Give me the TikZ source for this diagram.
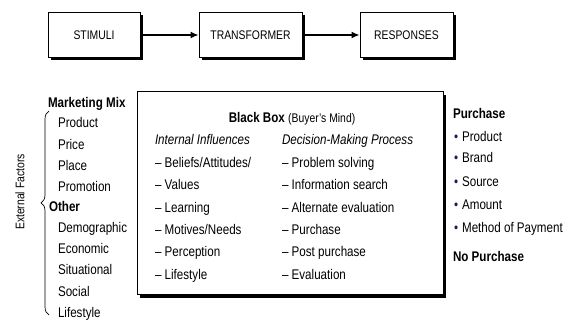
\documentclass[tikz,border=0pt]{standalone}
\usepackage{fontspec}
\setmainfont{Liberation Sans}[FakeStretch=0.83]
\usepackage{xcolor}
\usetikzlibrary{positioning,arrows.meta,shadows,decorations.pathreplacing}

\definecolor{bulletColor}{RGB}{30,30,90}
\newcommand{\rbullet}{\textcolor{bulletColor}{\fontsize{14}{14}\selectfont•}\hspace{4pt}}
\tikzset{
  stagebox/.style={draw=black,line width=1pt,fill=white,minimum width=92pt,minimum height=45pt,
    font=\fontsize{12.5}{14}\selectfont,
    drop shadow={shadow xshift=2.5pt,shadow yshift=-2.5pt,fill=black,opacity=1}},
  flow/.style={line width=1.2pt,-{Latex[length=8pt,width=7pt]}},
  lbl/.style={anchor=base west,inner sep=0pt,outer sep=0pt,font=\fontsize{14}{16}\selectfont},
  head/.style={lbl,font=\fontsize{14}{16}\selectfont\bfseries}
}

\begin{document}
\begin{tikzpicture}[x=1pt,y=-1pt]
\path[use as bounding box,fill=white] (0,0) rectangle (568,320);

% stages
\node[stagebox] (stimuli) at ( 94.0,35) {STIMULI};
\node[stagebox,minimum width=103pt] (transformer) at (250.5,35) {TRANSFORMER};
\node[stagebox,minimum width=93pt] (responses) at (406.5,35) {RESPONSES};

\draw[flow] (stimuli) -- (transformer);
\draw[flow] (transformer) -- (responses);

% black box
\node[draw=black,line width=1pt,fill=white,minimum width=306pt,minimum height=203pt,
  drop shadow={shadow xshift=2.5pt,shadow yshift=-3pt,fill=black,opacity=1}] (blackbox) at (290,193.5) {};

\node[anchor=base,inner sep=0pt,font=\fontsize{14}{16}\selectfont] (bbtitle) at (292,122.5)
  {\textbf{Black Box} {\fontsize{12.5}{14}\selectfont(Buyer's Mind)}};

\node[lbl,font=\fontsize{14}{16}\selectfont\itshape] (internal) at (155,144.5) {Internal Influences};
\node[lbl,font=\fontsize{14}{16}\selectfont\itshape] (decision) at (282,144.5) {Decision-Making Process};

\node[lbl] (beliefs) at (155,167.5) {– Beliefs/Attitudes/};
\node[lbl] (values) at (155,189.5) {– Values};
\node[lbl] (learning) at (155,212.5) {– Learning};
\node[lbl] (motives) at (155,234.5) {– Motives/Needs};
\node[lbl] (perception) at (155,256.5) {– Perception};
\node[lbl] (lifestyleint) at (155,279.5) {– Lifestyle};

\node[lbl] (problem) at (282,167.5) {– Problem solving};
\node[lbl] (search) at (282,189.5) {– Information search};
\node[lbl] (alternate) at (282,212.5) {– Alternate evaluation};
\node[lbl] (purchasestep) at (282,234.5) {– Purchase};
\node[lbl] (postpurchase) at (282,256.5) {– Post purchase};
\node[lbl] (evaluation) at (282,279.5) {– Evaluation};

% external factors
\node[head] (mix) at (48,107.5) {Marketing Mix};
\node[lbl] (product) at (58,127.5) {Product};
\node[lbl] (price) at (58,149.5) {Price};
\node[lbl] (place) at (58,170.5) {Place};
\node[lbl] (promotion) at (58,191.5) {Promotion};
\node[head] (other) at (49,211.5) {Other};
\node[lbl] (demographic) at (58,232.5) {Demographic};
\node[lbl] (economic) at (58,253.5) {Economic};
\node[lbl] (situational) at (58,274.5) {Situational};
\node[lbl] (social) at (58,296.5) {Social};
\node[lbl] (lifestyleext) at (58,317.5) {Lifestyle};

\coordinate (bracetop) at (49,111);
\coordinate (bracebot) at (49,315);
\draw[line width=0.7pt,decorate,decoration={brace,amplitude=8pt,aspect=0.55}] (bracebot) -- (bracetop);

\node[rotate=90,inner sep=0pt,font=\fontsize{12.5}{14}\selectfont] (external) at (20,192) {External Factors};

% responses
\node[head] (purchase) at (453,118.5) {Purchase};
\node[lbl] (rproduct) at (454,141.5) {\rbullet Product};
\node[lbl] (rbrand) at (454,162.5) {\rbullet Brand};
\node[lbl] (rsource) at (454,186.5) {\rbullet Source};
\node[lbl] (ramount) at (454,209.5) {\rbullet Amount};
\node[lbl] (rmethod) at (454,232.5) {\rbullet Method of Payment};
\node[head] (nopurchase) at (453,261.5) {No Purchase};
\end{tikzpicture}
\end{document}
